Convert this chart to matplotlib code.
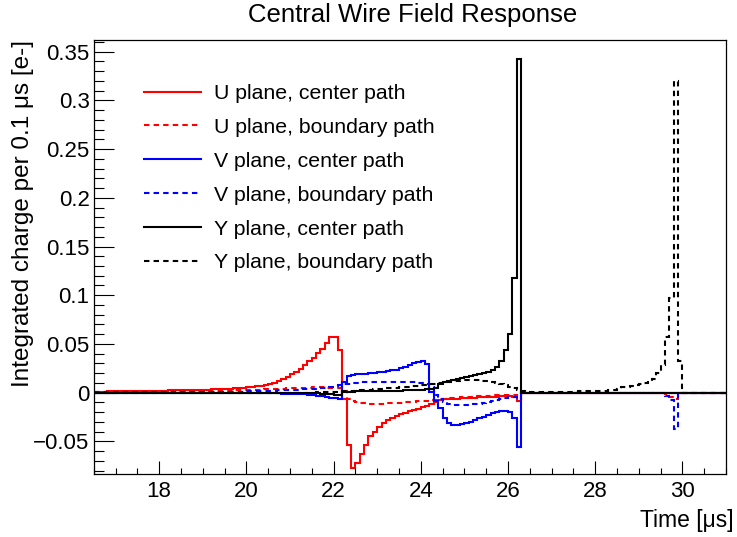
import numpy as np
import matplotlib
matplotlib.use("Agg")
import matplotlib.pyplot as plt
from matplotlib.ticker import MultipleLocator, FuncFormatter
from matplotlib.lines import Line2D

plt.rcParams['font.family'] = ['Liberation Sans', 'DejaVu Sans']

# ---------------- data (integrated charge per 0.1 us bin) ----------------
t_min, t_max, bin_w = 16.5, 31.0, 0.1

labels = ["U plane, center path", "U plane, boundary path",
          "V plane, center path", "V plane, boundary path",
          "Y plane, center path", "Y plane, boundary path"]

# U plane, center path: bins starting at 16.5
u_center_start = 16.5
u_center = [
    0.0010, 0.0011, 0.0011, 0.0012, 0.0012,
    0.0013, 0.0013, 0.0014, 0.0015, 0.0015, 0.0016, 0.0017, 0.0018, 0.0019, 0.0020,
    0.0021, 0.0022, 0.0023, 0.0024, 0.0025, 0.0026, 0.0027, 0.0028, 0.0029, 0.0030,
    0.0031, 0.0032, 0.0034, 0.0035, 0.0037, 0.0039, 0.0041, 0.0044, 0.0047, 0.0051,
    0.0055, 0.0060, 0.0066, 0.0072, 0.0082, 0.0092, 0.0103, 0.0120, 0.0137, 0.0160,
    0.0188, 0.0210, 0.0246, 0.0280, 0.0325, 0.0360, 0.0410, 0.0450, 0.0510, 0.0575,
    0.0575, 0.0440, -0.0060, -0.0540, -0.0770, -0.0725, -0.0625, -0.0540, -0.0450, -0.0400,
    -0.0356, -0.0315, -0.0280, -0.0257, -0.0240, -0.0220, -0.0205, -0.0190, -0.0178, -0.0164,
    -0.0150, -0.0137, -0.0116, -0.0100, -0.0075, -0.0070, -0.0066, -0.0063, -0.0060, -0.0057,
    -0.0055, -0.0052, -0.0050, -0.0048, -0.0046, -0.0044, -0.0042, -0.0040, -0.0038, -0.0036,
    -0.0034, -0.0040, -0.0090]

# U plane, boundary path
u_bound_start = 16.5
u_bound = [
    0.0005, 0.0005, 0.0005, 0.0006, 0.0006,
    0.0006, 0.0007, 0.0007, 0.0007, 0.0008, 0.0008, 0.0008, 0.0009, 0.0009, 0.0010,
    0.0010, 0.0011, 0.0011, 0.0012, 0.0012, 0.0013, 0.0013, 0.0014, 0.0015, 0.0015,
    0.0016, 0.0017, 0.0018, 0.0019, 0.0020, 0.0021, 0.0022, 0.0023, 0.0024, 0.0026,
    0.0027, 0.0029, 0.0030, 0.0032, 0.0034, 0.0036, 0.0038, 0.0040, 0.0042, 0.0044,
    0.0046, 0.0048, 0.0050, 0.0051, 0.0052, 0.0053, 0.0053, 0.0053, 0.0052, 0.0050,
    0.0048, 0.0044, 0.0020, -0.0065, -0.0090, -0.0100, -0.0106, -0.0110, -0.0112, -0.0113,
    -0.0113, -0.0112, -0.0110, -0.0108, -0.0105, -0.0102, -0.0099, -0.0095, -0.0092, -0.0088,
    -0.0085, -0.0081, -0.0077, -0.0073, -0.0068, -0.0062, -0.0058, -0.0054, -0.0050, -0.0047,
    -0.0044, -0.0041, -0.0038, -0.0036, -0.0033, -0.0031, -0.0029, -0.0027, -0.0025, -0.0023,
    -0.0022, -0.0025, -0.0035, -0.0005]
u_bound_late_start = 29.6
u_bound_late = [-0.0015, -0.0040, -0.0060]

# V plane, center path
v_center_start = 16.5
v_center = [
    -0.0001, -0.0001, -0.0001, -0.0001, -0.0001,
    -0.0001, -0.0001, -0.0001, -0.0001, -0.0001, -0.0001, -0.0001, -0.0001, -0.0001, -0.0001,
    -0.0002, -0.0002, -0.0002, -0.0002, -0.0002, -0.0002, -0.0002, -0.0002, -0.0002, -0.0002,
    -0.0002, -0.0002, -0.0002, -0.0003, -0.0003, -0.0003, -0.0003, -0.0003, -0.0003, -0.0003,
    -0.0004, -0.0004, -0.0005, -0.0005, -0.0006, -0.0006, -0.0007, -0.0008, -0.0009, -0.0010,
    -0.0011, -0.0012, -0.0014, -0.0016, -0.0019, -0.0024, -0.0030, -0.0036, -0.0044, -0.0052,
    -0.0058, -0.0060, 0.0110, 0.0170, 0.0180, 0.0188, 0.0192, 0.0195, 0.0198, 0.0202,
    0.0210, 0.0215, 0.0222, 0.0228, 0.0236, 0.0248, 0.0265, 0.0280, 0.0300, 0.0318,
    0.0325, 0.0290, 0.0010, -0.0090, -0.0160, -0.0260, -0.0310, -0.0330, -0.0332, -0.0325,
    -0.0312, -0.0298, -0.0280, -0.0262, -0.0245, -0.0228, -0.0212, -0.0198, -0.0188, -0.0185,
    -0.0200, -0.0260, -0.0560]

# V plane, boundary path
v_bound_start = 16.5
v_bound = [
    0.0002, 0.0002, 0.0002, 0.0002, 0.0002,
    0.0003, 0.0003, 0.0003, 0.0003, 0.0003, 0.0003, 0.0004, 0.0004, 0.0004, 0.0004,
    0.0005, 0.0005, 0.0005, 0.0005, 0.0006, 0.0006, 0.0006, 0.0007, 0.0007, 0.0007,
    0.0008, 0.0008, 0.0008, 0.0009, 0.0009, 0.0009, 0.0010, 0.0010, 0.0011, 0.0011,
    0.0012, 0.0013, 0.0014, 0.0016, 0.0018, 0.0020, 0.0022, 0.0024, 0.0026, 0.0028,
    0.0030, 0.0032, 0.0034, 0.0036, 0.0038, 0.0040, 0.0042, 0.0045, 0.0050, 0.0058,
    0.0065, 0.0075, 0.0085, 0.0092, 0.0098, 0.0102, 0.0105, 0.0107, 0.0108, 0.0109,
    0.0110, 0.0110, 0.0110, 0.0110, 0.0110, 0.0110, 0.0109, 0.0108, 0.0106, 0.0103,
    0.0098, 0.0088, 0.0060, -0.0020, -0.0070, -0.0100, -0.0115, -0.0122, -0.0126, -0.0127,
    -0.0126, -0.0123, -0.0118, -0.0112, -0.0105, -0.0097, -0.0088, -0.0078, -0.0068, -0.0058,
    -0.0048, -0.0040, -0.0060]
v_bound_late_start = 29.6
v_bound_late = [-0.0030, -0.0080, -0.0370]

# Y plane, center path
y_center_start = 21.5
y_center = [
    -0.0005, -0.0008, -0.0010, -0.0013, -0.0018,
    -0.0024, -0.0028, 0.0008, 0.0010, 0.0011, 0.0012, 0.0013, 0.0014, 0.0015, 0.0016,
    0.0017, 0.0018, 0.0019, 0.0020, 0.0021, 0.0022, 0.0023, 0.0024, 0.0026, 0.0028,
    0.0030, 0.0033, 0.0038, 0.0050, 0.0085, 0.0110, 0.0120, 0.0130, 0.0140, 0.0150,
    0.0160, 0.0170, 0.0180, 0.0190, 0.0200, 0.0212, 0.0230, 0.0260, 0.0320, 0.0440,
    0.0600, 0.1180, 0.3420]

# Y plane, boundary path
y_bound_start = 21.5
y_bound = [
    0.0001, 0.0002, 0.0002, 0.0003, 0.0004,
    0.0005, 0.0008, 0.0012, 0.0016, 0.0019, 0.0022, 0.0025, 0.0028, 0.0031, 0.0034,
    0.0037, 0.0040, 0.0043, 0.0047, 0.0051, 0.0055, 0.0059, 0.0063, 0.0067, 0.0071,
    0.0075, 0.0080, 0.0086, 0.0093, 0.0100, 0.0106, 0.0111, 0.0116, 0.0121, 0.0125,
    0.0128, 0.0130, 0.0130, 0.0128, 0.0124, 0.0118, 0.0110, 0.0100, 0.0088, 0.0075,
    0.0060, 0.0045, 0.0030, 0.0015, 0.0010, 0.0009, 0.0008, 0.0008, 0.0008, 0.0008,
    0.0009, 0.0009, 0.0010, 0.0010, 0.0011, 0.0011, 0.0012, 0.0013, 0.0014, 0.0015,
    0.0016, 0.0018, 0.0021, 0.0024, 0.0028, 0.0040, 0.0055, 0.0060, 0.0065, 0.0075,
    0.0085, 0.0095, 0.0115, 0.0145, 0.0200, 0.0280, 0.0570, 0.0970, 0.3200, 0.0320]


def hist(segments):
    n = int(round((t_max - t_min) / bin_w))
    arr = np.zeros(n)
    for start, vals in segments:
        i0 = int(round((start - t_min) / bin_w))
        arr[i0:i0 + len(vals)] = vals
    return arr


series = [
    (hist([(u_center_start, u_center)]), 'red', '-'),
    (hist([(u_bound_start, u_bound), (u_bound_late_start, u_bound_late)]), 'red', '--'),
    (hist([(v_center_start, v_center)]), 'blue', '-'),
    (hist([(v_bound_start, v_bound), (v_bound_late_start, v_bound_late)]), 'blue', '--'),
    (hist([(y_center_start, y_center)]), 'black', '-'),
    (hist([(y_bound_start, y_bound)]), 'black', '--'),
]
edges = np.linspace(t_min, t_max, int(round((t_max - t_min) / bin_w)) + 1)

# ---------------- figure ----------------
W, H = 737, 537
fig = plt.figure(figsize=(W / 100, H / 100), dpi=100)
L, R, T, B = 93.7, 726, 40, 474
ax = fig.add_axes([L / W, 1 - B / H, (R - L) / W, (B - T) / H])

dash = (0, (2.6, 2.0))
lw = 1.5
for vals, col, ls in series:
    ax.stairs(vals, edges, color=col, lw=lw,
              linestyle=dash if ls == '--' else '-', baseline=None)

ax.set_xlim(t_min, t_max)
ax.set_ylim(-0.0835, 0.362)

ax.xaxis.set_major_locator(MultipleLocator(2))
ax.xaxis.set_minor_locator(MultipleLocator(0.5))
ax.yaxis.set_major_locator(MultipleLocator(0.05))
ax.yaxis.set_minor_locator(MultipleLocator(0.01))


def yfmt(v, pos):
    if abs(v) < 1e-9:
        return '0'
    return ('%g' % round(v, 3)).replace('-', '\u2212')


ax.yaxis.set_major_formatter(FuncFormatter(yfmt))
ax.xaxis.set_major_formatter(FuncFormatter(lambda v, p: '%d' % round(v)))

ax.tick_params(axis='x', which='major', direction='in', length=9.2, width=0.8,
               labelsize=16, pad=5, top=False)
ax.tick_params(axis='x', which='minor', direction='in', length=4.6, width=0.8, top=False)
ax.tick_params(axis='y', which='major', direction='in', length=14.5, width=0.8,
               labelsize=16, pad=3, right=False)
ax.tick_params(axis='y', which='minor', direction='in', length=7.2, width=0.8, right=False)
for s in ax.spines.values():
    s.set_linewidth(0.9)

ax.set_ylabel('Integrated charge per 0.1 \u03bcs [e-]', fontsize=17.5, loc='top')
ax.yaxis.set_label_coords(-0.095, 1.0)
ax.set_xlabel('Time [\u03bcs]', fontsize=16.5, loc='right')
ax.xaxis.set_label_coords(1.012, -0.080)

fig.text(413 / W, 1 - 15 / H, 'Central Wire Field Response', fontsize=18.5,
         ha='center', va='center')

handles = []
for vals, col, ls in series:
    handles.append(Line2D([], [], color=col, lw=lw,
                          linestyle=dash if ls == '--' else '-'))
leg = ax.legend(handles, labels, loc='upper left',
                bbox_to_anchor=(144 / W, 1 - 84 / H), bbox_transform=fig.transFigure,
                frameon=False, fontsize=15.3, borderpad=0, borderaxespad=0,
                handlelength=2.7, handletextpad=0.6, labelspacing=0.70)

fig.savefig('out.png', dpi=100)
